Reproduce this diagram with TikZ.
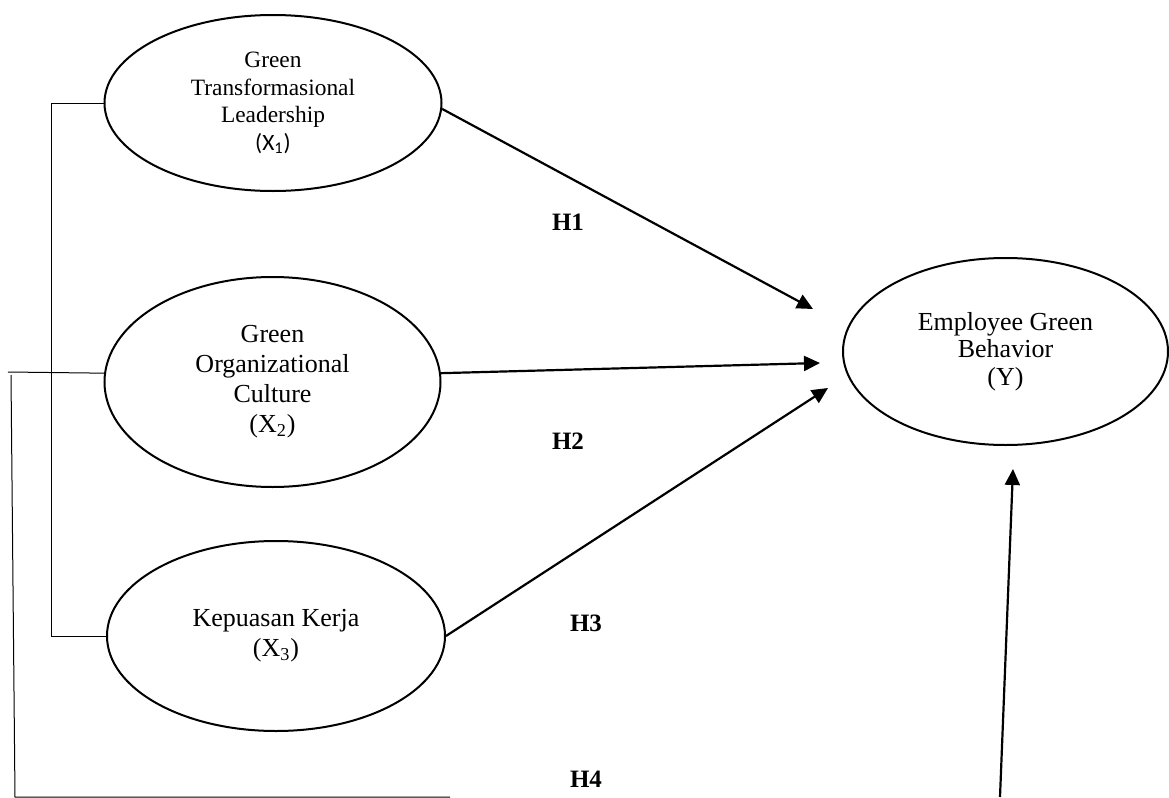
\documentclass[tikz,border=0pt]{standalone}
\usepackage{fontspec}
\setmainfont{Liberation Serif}
\newfontfamily\carlitofont{Carlito}
\usetikzlibrary{shapes.geometric,arrows.meta}

\begin{document}
\begin{tikzpicture}[x=0.5pt,y=-0.5pt,
    latent/.style={draw,ellipse,line width=1pt,inner sep=0pt,align=center,
      font=\fontsize{13}{15}\selectfont},
    hyp/.style={font=\fontsize{12.5}{14}\selectfont\bfseries},
    link/.style={line width=0.5pt}]
  \useasboundingbox (0,0) rectangle (1169,798);
  \draw
    (273,103) node[latent,minimum width=168.5pt,minimum height=88pt,
      font=\fontsize{11.7}{13.8}\selectfont] (x1)
      {Green\\Transformasional\\Leadership\\{\carlitofont(X\textsubscript{1})}}
    (272.5,382) node[latent,minimum width=168pt,minimum height=105pt] (x2)
      {Green\\Organizational\\Culture\\(X\textsubscript{2})}
    (276,636) node[latent,minimum width=169pt,minimum height=95pt] (x3)
      {Kepuasan Kerja\\(X\textsubscript{3})}
    (1005.5,351.5) node[latent,minimum width=162.5pt,minimum height=93.5pt,
      font=\fontsize{13}{13.8}\selectfont] (y)
      {Employee Green\\Behavior\\(Y)};
  \draw
    (568,222) node[hyp] (h1){H1}
    (568,441) node[hyp] (h2){H2}
    (586,623) node[hyp] (h3){H3}
    (586,779) node[hyp] (h4){H4};
  \coordinate (t1) at (813,309);
  \coordinate (t2) at (820,363);
  \coordinate (t3) at (828,388);
  \coordinate (t4) at (1013,469);
  \coordinate (s4) at (1000,797);
  \coordinate (l1) at (51,103);
  \coordinate (l2) at (51,636);
  \coordinate (o1) at (8,372);
  \coordinate (o2) at (11,375);
  \coordinate (o3) at (15,797);
  \coordinate (o4) at (450,797);
  \begin{scope}[link]
    \draw (x1.west) -- (l1) -- (l2) -- (x3.west);
    \draw (x2.177) -- (o1);
    \draw (o2) -- (o3) -- (o4);
  \end{scope}
  \begin{scope}[line width=1.1pt,-{Triangle[length=8pt,width=7.5pt]}]
    \draw (x1.-2) to (t1);
    \draw (x2.3) to (t2);
    \draw (x3.east) to (t3);
    \draw (s4) to (t4);
  \end{scope}
\end{tikzpicture}
\end{document}
